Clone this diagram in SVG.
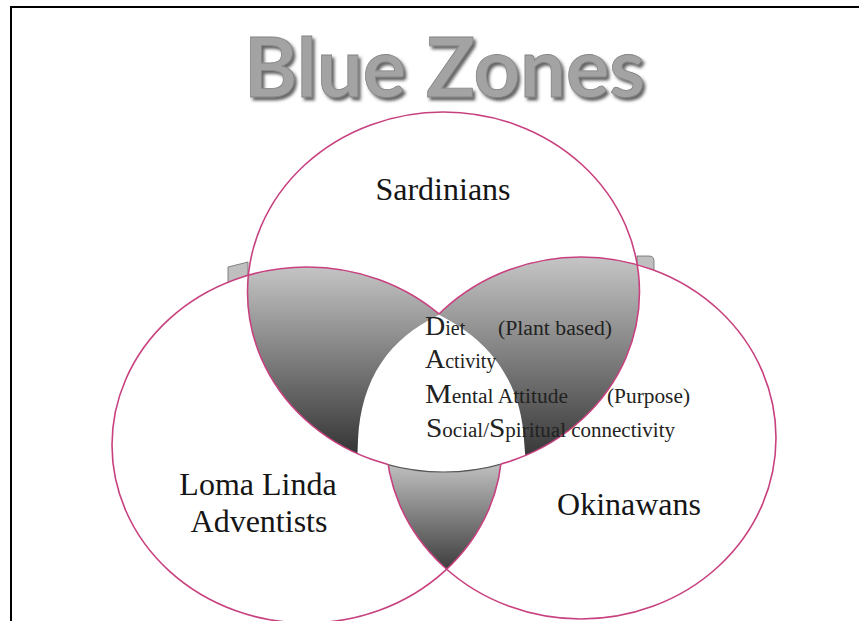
<svg xmlns="http://www.w3.org/2000/svg" xmlns:xlink="http://www.w3.org/1999/xlink" width="859" height="621" viewBox="0 0 859 621">
<style>
.outline{fill:none;stroke:#c8417f;stroke-width:1.6}
.lbl{font-family:"Liberation Serif","Times New Roman",serif;font-size:32px;fill:#151515}
.dam{font-family:"Liberation Serif","Times New Roman",serif;font-size:20px;fill:#222}
.big{font-size:28px}
.title{font-family:Lato,"DejaVu Sans",sans-serif;font-weight:bold;font-size:82px;fill:#a3a3a3;stroke:#858585;stroke-width:0.8}
</style>
<defs>
<ellipse id="eT" cx="443.5" cy="292" rx="196" ry="180"/>
<ellipse id="eL" cx="307" cy="445" rx="195" ry="178"/>
<ellipse id="eR" cx="581" cy="438" rx="195" ry="181"/>
<path id="pW" d="M439,315 C390,338 361,378 358,440 L356,490 L528,490 L524,440 C521,382 490,340 439,315 Z"/>
<clipPath id="cT"><use xlink:href="#eT"/></clipPath>
<clipPath id="cL"><use xlink:href="#eL"/></clipPath>
<clipPath id="cR"><use xlink:href="#eR"/></clipPath>
<linearGradient id="gTL" gradientUnits="userSpaceOnUse" x1="0" y1="264" x2="0" y2="460">
<stop offset="0" stop-color="#c6c6c6"/><stop offset="1" stop-color="#303030"/>
</linearGradient>
<linearGradient id="gTR" gradientUnits="userSpaceOnUse" x1="0" y1="256" x2="0" y2="460">
<stop offset="0" stop-color="#c6c6c6"/><stop offset="1" stop-color="#353535"/>
</linearGradient>
<linearGradient id="gB" gradientUnits="userSpaceOnUse" x1="0" y1="462" x2="0" y2="574">
<stop offset="0" stop-color="#c2c2c2"/><stop offset="1" stop-color="#383838"/>
</linearGradient>
<mask id="mT" maskUnits="userSpaceOnUse" x="0" y="0" width="859" height="621">
<rect width="859" height="621" fill="#fff"/>
<g clip-path="url(#cL)"><use xlink:href="#eR" fill="#000"/></g>
</mask>
<mask id="mL" maskUnits="userSpaceOnUse" x="0" y="0" width="859" height="621">
<rect width="859" height="621" fill="#fff"/>
<g clip-path="url(#cT)"><use xlink:href="#eR" fill="#000"/></g>
<g clip-path="url(#cT)"><use xlink:href="#pW" fill="#000"/></g>
</mask>
<mask id="mR" maskUnits="userSpaceOnUse" x="0" y="0" width="859" height="621">
<rect width="859" height="621" fill="#fff"/>
<g clip-path="url(#cT)"><use xlink:href="#eL" fill="#000"/></g>
<g clip-path="url(#cT)"><use xlink:href="#pW" fill="#000"/></g>
</mask>
<filter id="sh" x="-10%" y="-20%" width="120%" height="150%">
<feDropShadow dx="2.5" dy="3" stdDeviation="1.6" flood-color="#333" flood-opacity="0.75"/>
</filter>
</defs>
<rect width="859" height="621" fill="#fff"/>
<path d="M11,621 V7 H859" fill="none" stroke="#000" stroke-width="2"/>
<g id="title">
<text class="title" x="244" y="97" textLength="401" lengthAdjust="spacingAndGlyphs" filter="url(#sh)">Blue Zones</text>
</g>
<g id="tabs">
<polygon points="228,267 248,262 248,292 228,292" fill="#bfbfbf" stroke="#6a6a6a" stroke-width="0.8"/>
<path d="M637,256 L649,256 Q654,256 654,261 L654,292 L637,292 Z" fill="#bfbfbf" stroke="#6a6a6a" stroke-width="0.8"/>
</g>
<g id="fills">
<use xlink:href="#eT" fill="#fff"/>
<use xlink:href="#eL" fill="#fff"/>
<use xlink:href="#eR" fill="#fff"/>
<g clip-path="url(#cL)"><rect x="100" y="100" width="700" height="500" fill="url(#gTL)" clip-path="url(#cT)"/></g>
<g clip-path="url(#cR)"><rect x="100" y="100" width="700" height="500" fill="url(#gTR)" clip-path="url(#cT)"/></g>
<g clip-path="url(#cL)"><rect x="100" y="100" width="700" height="500" fill="url(#gB)" clip-path="url(#cR)"/></g>
<g clip-path="url(#cT)"><use xlink:href="#pW" fill="#fff"/></g>
<g clip-path="url(#cL)"><g clip-path="url(#cR)"><use xlink:href="#eT" fill="none" stroke="#555" stroke-width="1.2"/></g></g>
</g>
<g id="connectors">
<use xlink:href="#eT" class="outline" mask="url(#mT)"/>
<use xlink:href="#eL" class="outline" mask="url(#mL)"/>
<use xlink:href="#eR" class="outline" mask="url(#mR)"/>
</g>
<g id="sardinians"><text class="lbl" x="443" y="200" text-anchor="middle">Sardinians</text></g>
<g id="loma-linda"><text class="lbl" x="258" y="495" text-anchor="middle">Loma Linda</text><text class="lbl" x="259" y="532" text-anchor="middle">Adventists</text></g>
<g id="okinawans"><text class="lbl" x="629" y="515" text-anchor="middle">Okinawans</text></g>
<g id="damn">
<text class="dam" x="425" y="335"><tspan class="big">D</tspan>iet</text>
<text class="dam" x="498" y="335" textLength="114" lengthAdjust="spacingAndGlyphs">(Plant based)</text>
<text class="dam" x="425" y="368"><tspan class="big">A</tspan>ctivity</text>
<text class="dam" x="425" y="403" textLength="143" lengthAdjust="spacingAndGlyphs"><tspan class="big">M</tspan>ental Attitude</text>
<text class="dam" x="607" y="403" textLength="83" lengthAdjust="spacingAndGlyphs">(Purpose)</text>
<text class="dam" x="426" y="437" textLength="249" lengthAdjust="spacingAndGlyphs"><tspan class="big">S</tspan>ocial/<tspan class="big">S</tspan>piritual connectivity</text>
</g>
</svg>
